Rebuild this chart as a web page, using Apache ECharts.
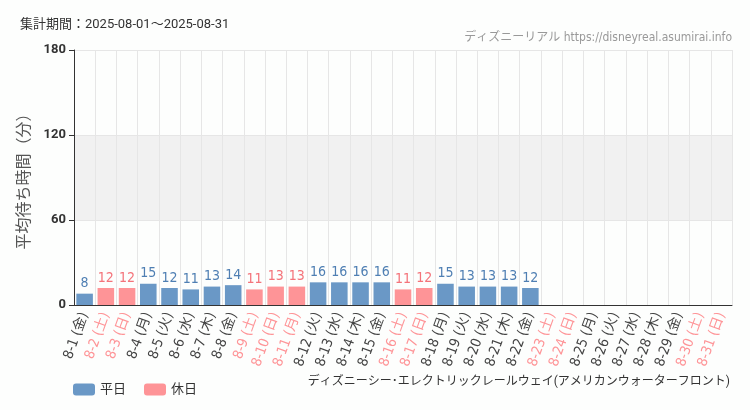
<!DOCTYPE html>
<html><head><meta charset="utf-8">
<script src="https://cdn.jsdelivr.net/npm/echarts@6/dist/echarts.min.js"></script>
<style>html,body{margin:0;background:#fdfefd}#c{width:750px;height:410px}</style>
</head><body><div id="c"></div>
<script>
let days = ['8-1 (金)','8-2 (土)','8-3 (日)','8-4 (月)','8-5 (火)','8-6 (水)','8-7 (木)','8-8 (金)','8-9 (土)','8-10 (日)','8-11 (月)','8-12 (火)','8-13 (水)','8-14 (木)','8-15 (金)','8-16 (土)','8-17 (日)','8-18 (月)','8-19 (火)','8-20 (水)','8-21 (木)','8-22 (金)','8-23 (土)','8-24 (日)','8-25 (月)','8-26 (火)','8-27 (水)','8-28 (木)','8-29 (金)','8-30 (土)','8-31 (日)'];
let holidays = [0,1,1,0,0,0,0,0,1,1,1,0,0,0,0,1,1,0,0,0,0,0,1,1,0,0,0,0,0,1,1];
let waits = [8,12,12,15,12,11,13,14,11,13,13,16,16,16,16,11,12,15,13,13,13,12,null,null,null,null,null,null,null,null,null];
let yTicks = [0, 60, 120, 180];

let blue = '#6a98c6', pink = '#fe9497';
let weekday = waits.map((v, i) => holidays[i] ? null : v);
let offday = waits.map((v, i) => holidays[i] ? v : null);
let cond = '"DejaVu Sans Condensed", "Noto Sans CJK JP"';

function labelOf(color) {
    return {show: true, position: 'top', color: color, fontFamily: cond, fontSize: 14, distance: 3};
}

let chart = echarts.init(document.getElementById('c'));
chart.setOption({
    backgroundColor: '#fdfefd',
    textStyle: {fontFamily: 'Roboto, "Noto Sans CJK JP"'},
    graphic: [
        {type: 'text', left: 20, top: 18, style: {text: '集計期間：2025-08-01～2025-08-31', fill: '#333', font: '13px Roboto, "Noto Sans CJK JP"'}},
        {type: 'text', right: 18, top: 32, style: {text: 'ディズニーリアル https://disneyreal.asumirai.info', fill: '#999', font: '12px ' + cond}},
        {type: 'text', right: 20, top: 376, style: {text: 'ディズニーシー･エレクトリックレールウェイ(アメリカンウォーターフロント)', fill: '#333', font: '12px Roboto, "Noto Sans CJK JP"'}}
    ],
    legend: {
        left: 68, top: 378, itemWidth: 22, itemHeight: 12, itemGap: 18,
        textStyle: {fontSize: 13, color: '#333'},
        data: ['平日', '休日']
    },
    grid: {left: 74, right: 18, top: 50, bottom: 105},
    xAxis: {
        type: 'category', data: days,
        axisLine: {lineStyle: {color: '#333'}},
        axisTick: {alignWithLabel: true, lineStyle: {color: '#333'}},
        splitLine: {show: true, interval: 0, lineStyle: {color: '#e6e6e6'}},
        axisLabel: {
            interval: 0, rotate: 70, fontSize: 14, margin: 8, fontFamily: cond,
            color: (v, i) => holidays[i] ? pink : '#444'
        }
    },
    yAxis: {
        type: 'value', min: yTicks[0], max: yTicks[yTicks.length - 1], interval: 60,
        name: '平均待ち時間（分）', nameLocation: 'middle', nameGap: 35,
        nameTextStyle: {fontSize: 16, color: '#555'},
        axisLine: {show: true, lineStyle: {color: '#333'}},
        axisTick: {show: true, lineStyle: {color: '#333'}},
        axisLabel: {color: '#333', fontSize: 13, fontWeight: 'bold'},
        splitLine: {lineStyle: {color: '#e6e6e6'}},
        splitArea: {show: true, areaStyle: {color: ['rgba(0,0,0,0)', '#f1f1f1', 'rgba(0,0,0,0)']}}
    },
    series: [
        {name: '平日', type: 'bar', stack: 'a', barWidth: '78%', data: weekday,
         itemStyle: {color: blue}, label: labelOf('#4f7fb3')},
        {name: '休日', type: 'bar', stack: 'a', barWidth: '78%', data: offday,
         itemStyle: {color: pink}, label: labelOf('#f4737a')}
    ]
});
</script></body></html>
